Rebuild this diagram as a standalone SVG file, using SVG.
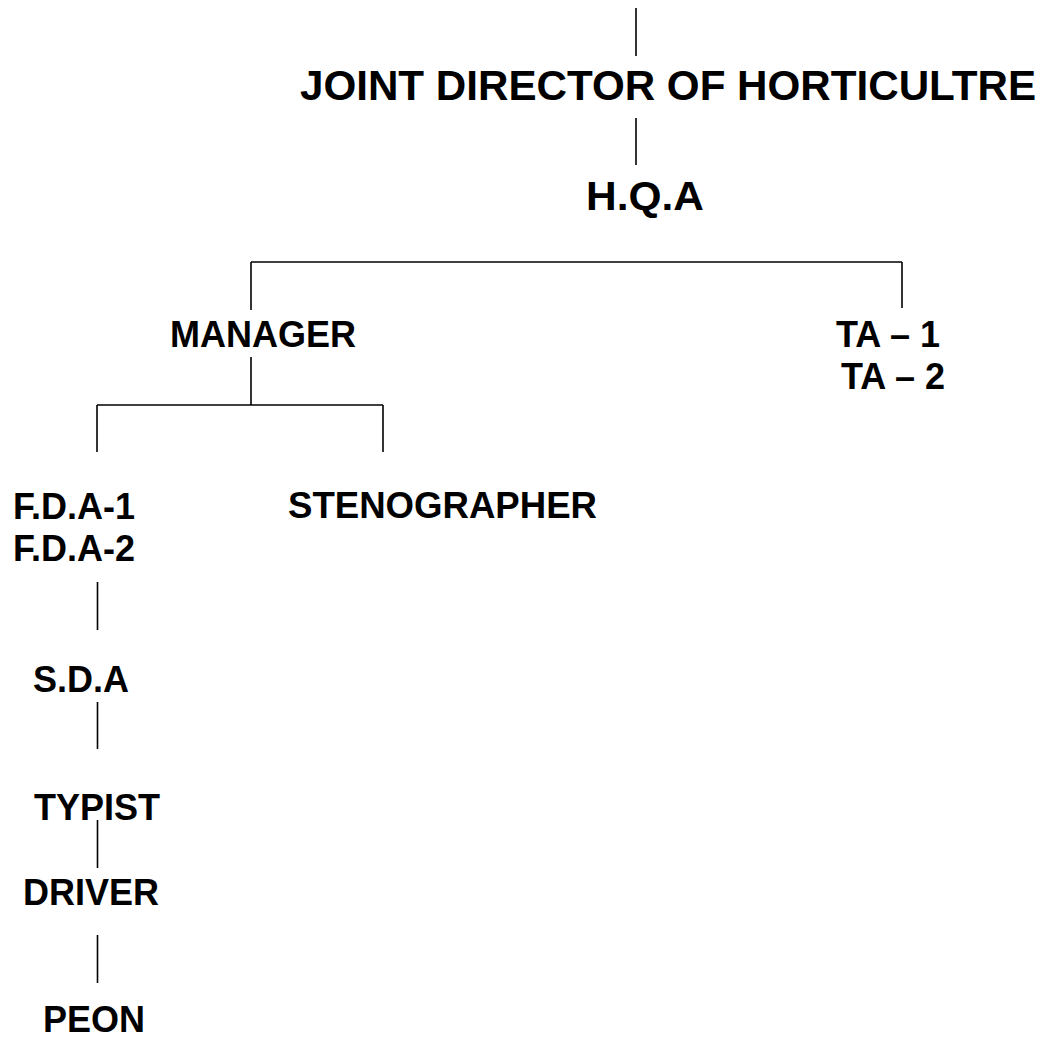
<svg xmlns="http://www.w3.org/2000/svg" width="1051" height="1038" viewBox="0 0 1051 1038">
<style>
text{font-family:"Liberation Sans",Arial,sans-serif;font-weight:bold;font-size:36px;fill:#000}
.big{font-size:42px}
.hqa{font-size:40px}
line{stroke:#000;stroke-width:1.6}
</style>
<rect width="1051" height="1038" fill="#fff"/>
<g id="connectors">
<line x1="636" y1="8" x2="636" y2="56"/>
<line x1="636" y1="118" x2="636" y2="165"/>
<line x1="251" y1="262" x2="902" y2="262"/>
<line x1="251" y1="262" x2="251" y2="310"/>
<line x1="902" y1="262" x2="902" y2="308"/>
<line x1="251" y1="357" x2="251" y2="405"/>
<line x1="97" y1="405" x2="383" y2="405"/>
<line x1="97" y1="405" x2="97" y2="452"/>
<line x1="383" y1="405" x2="383" y2="452"/>
<line x1="97.5" y1="582" x2="97.5" y2="630"/>
<line x1="97.5" y1="702" x2="97.5" y2="749"/>
<line x1="97.5" y1="820" x2="97.5" y2="868"/>
<line x1="97.5" y1="935" x2="97.5" y2="983"/>
</g>
<g id="n-jdh"><text class="big" x="300" y="100" textLength="736" lengthAdjust="spacingAndGlyphs">JOINT DIRECTOR OF HORTICULTRE</text></g>
<g id="n-hqa"><text class="hqa" x="586" y="210" textLength="118" lengthAdjust="spacingAndGlyphs">H.Q.A</text></g>
<g id="n-manager"><text x="170" y="347">MANAGER</text></g>
<g id="n-ta"><text x="836" y="347">TA – 1</text><text x="841" y="389">TA – 2</text></g>
<g id="n-fda"><text x="13" y="519">F.D.A-1</text><text x="13" y="561">F.D.A-2</text></g>
<g id="n-steno"><text x="288" y="518" textLength="309" lengthAdjust="spacingAndGlyphs">STENOGRAPHER</text></g>
<g id="n-sda"><text x="33" y="692">S.D.A</text></g>
<g id="n-typist"><text x="34" y="820">TYPIST</text></g>
<g id="n-driver"><text x="23" y="905">DRIVER</text></g>
<g id="n-peon"><text x="43" y="1032">PEON</text></g>
</svg>
